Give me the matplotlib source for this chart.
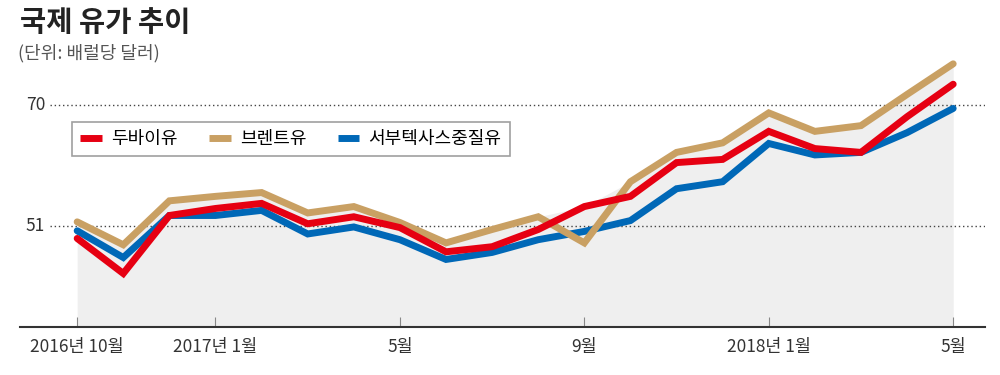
import numpy as np
import matplotlib
matplotlib.use("Agg")
from matplotlib import pyplot as plt

plt.rcParams['font.family'] = ['Noto Sans CJK KR', 'DejaVu Sans']

# 2016년 10월 ~ 2018년 5월, 월별 (배럴당 달러)
months = ['2016-10', '2016-11', '2016-12', '2017-01', '2017-02', '2017-03', '2017-04',
          '2017-05', '2017-06', '2017-07', '2017-08', '2017-09', '2017-10', '2017-11',
          '2017-12', '2018-01', '2018-02', '2018-03', '2018-04', '2018-05']
dubai = [49.0, 43.5, 52.6, 53.7, 54.5, 51.3, 52.4, 50.7, 46.9, 47.7,
         50.4, 54.0, 55.6, 60.9, 61.4, 65.8, 63.1, 62.5, 68.1, 73.2]
brent = [51.6, 48.0, 54.9, 55.6, 56.2, 53.0, 54.0, 51.5, 48.3, 50.4,
         52.4, 48.3, 57.9, 62.5, 64.0, 68.7, 65.8, 66.7, 71.6, 76.4]
wti = [50.2, 46.0, 52.6, 52.6, 53.4, 49.7, 50.8, 48.8, 45.7, 46.8,
       48.8, 50.1, 51.8, 56.8, 57.9, 63.9, 62.1, 62.5, 65.6, 69.4]

tick_idx = [0, 3, 7, 11, 15, 19]
tick_labels = ['2016년 10월', '2017년 1월', '5월', '9월', '2018년 1월', '5월']
y_ticks = [51, 70]

x = np.arange(len(months))
ymin, ymax = 35.1, 77.0

fig = plt.figure(figsize=(10, 3.75), dpi=100)
ax = fig.add_axes([0.02, 0.128, 0.965, 0.712])

# 배경 회색 영역
top = np.maximum(np.maximum(dubai, brent), wti)
ax.fill_between(x, ymin, top, color='#efefef', lw=0, zorder=1)

# 점선 기준선
for v in y_ticks:
    ax.axhline(v, xmin=0.031, xmax=1, color='#444444', lw=1.0,
               ls=(0, (1, 2)), zorder=2)
    ax.text(0.016, v, str(v), transform=ax.get_yaxis_transform(),
            ha='center', va='center', fontsize=12.5, color='#333333')

ax.plot(x, wti, color='#0068b7', lw=5, solid_capstyle='round',
        solid_joinstyle='miter', zorder=3, label='서부텍사스중질유')
ax.plot(x, brent, color='#c9a063', lw=5, solid_capstyle='round',
        solid_joinstyle='miter', zorder=4, label='브렌트유')
ax.plot(x, dubai, color='#e60012', lw=5, solid_capstyle='round',
        solid_joinstyle='miter', zorder=5, label='두바이유')

ax.set_xlim(-1.24, 19.69)
ax.set_ylim(ymin, ymax)

for s in ['top', 'right', 'left']:
    ax.spines[s].set_visible(False)
ax.spines['bottom'].set_color('#333333')
ax.spines['bottom'].set_linewidth(1.5)
ax.set_yticks([])
ax.set_xticks(tick_idx)
ax.set_xticklabels(tick_labels, fontsize=12.5, color='#333333')
ax.tick_params(axis='x', direction='in', length=7, width=0.8,
               color='#888888', pad=8)

h, l = ax.get_legend_handles_labels()
order = [2, 1, 0]
leg = ax.legend([h[i] for i in order], [l[i] for i in order], ncol=3,
                loc='upper left', bbox_to_anchor=(0.054, 0.768),
                borderaxespad=0, fontsize=13, frameon=True, fancybox=False,
                edgecolor='#888888', handlelength=1.2, handletextpad=0.5,
                columnspacing=1.75, borderpad=0.45)
leg.get_frame().set_linewidth(1.2)
for line in leg.get_lines():
    line.set_solid_capstyle('butt')

fig.text(0.02, 0.94, '국제 유가 추이', fontsize=20.5, fontweight='bold',
         color='#222222', va='center')
fig.text(0.018, 0.858, '(단위: 배럴당 달러)', fontsize=13, color='#555555',
         va='center')

fig.savefig('out.png', dpi=100)
